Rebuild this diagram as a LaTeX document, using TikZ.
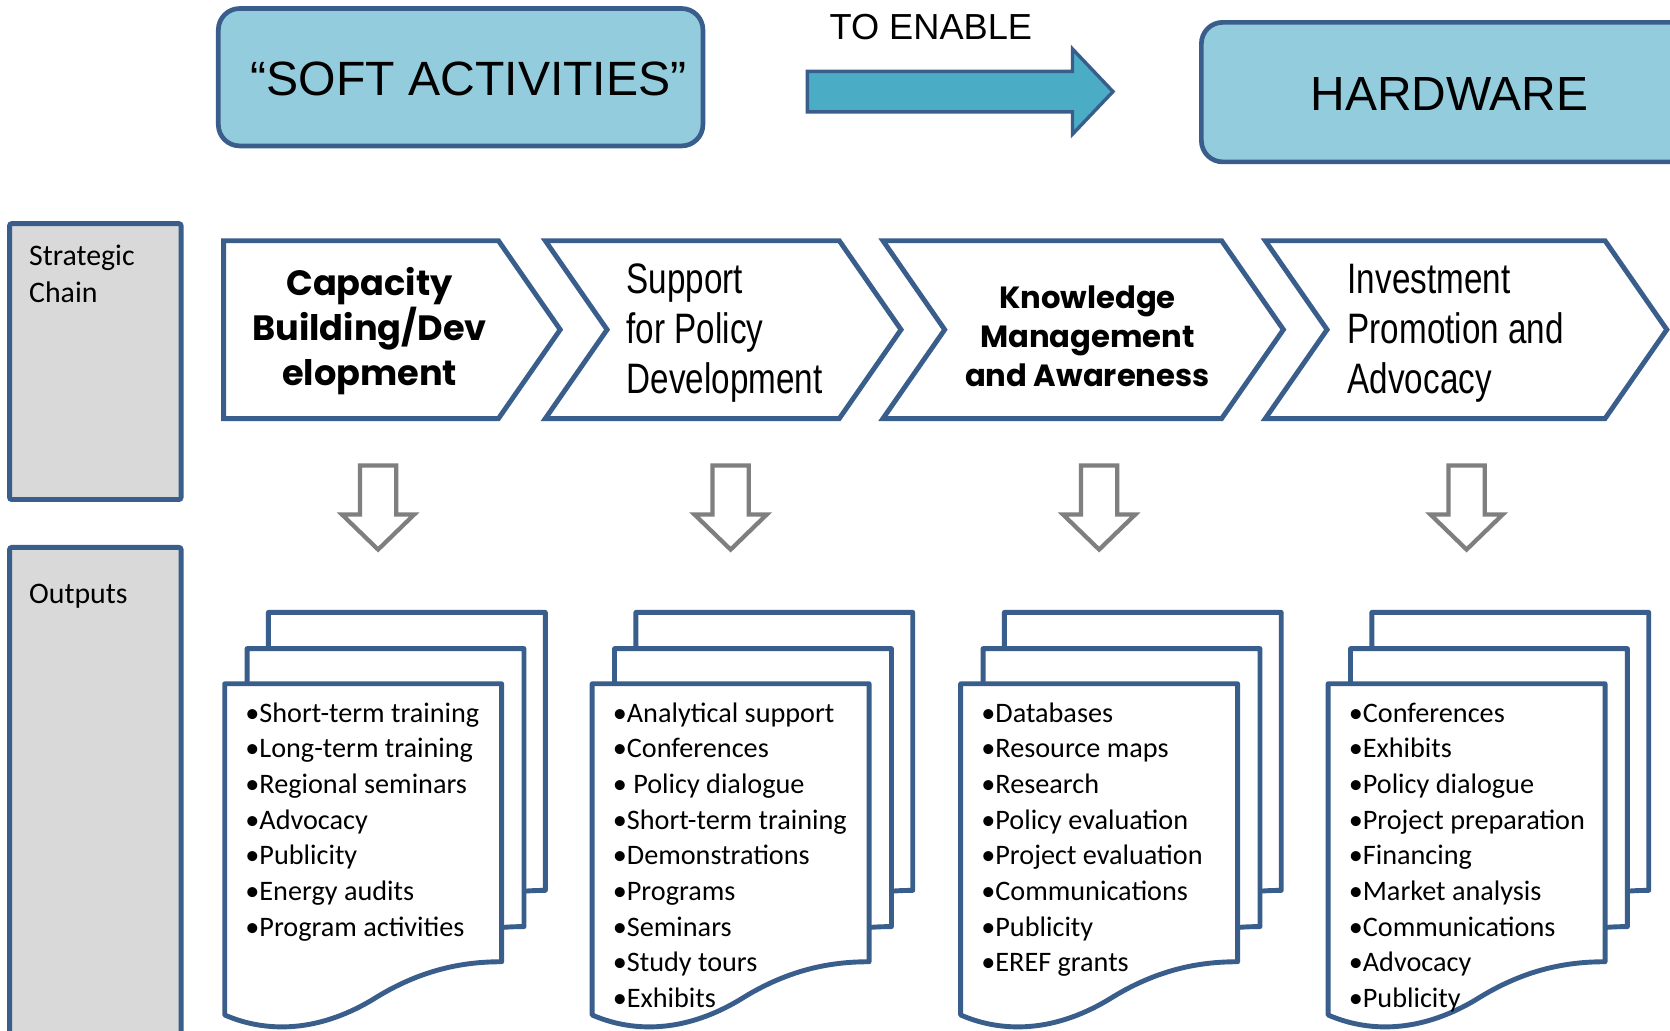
\documentclass[tikz,border=0pt]{standalone}
\usepackage{fontspec}
\setmainfont{Liberation Sans}
\newfontfamily\calfont{Carlito}
\newfontfamily\narrowfont[FakeStretch=0.78]{Liberation Sans}
\newfontfamily\geofont{Poppins}
\definecolor{bdr}{HTML}{3A5E8C}
\definecolor{lblue}{HTML}{93CDDD}
\definecolor{teal}{HTML}{4BACC6}
\definecolor{lgray}{HTML}{D9D9D9}
\definecolor{dgray}{HTML}{7F7F7F}
\newcommand\mydocpage[2]{%
  \draw[pagestyle] (#1,#2) -- ++(260,0) -- ++(0,261)
    .. controls +(-31,0) and +(46,-28) .. ++(-117,33)
    .. controls +(-54,34) and +(39,17) .. ++(-143,17) -- cycle;}
\tikzset{
  pagestyle/.style={draw=bdr, line width=2.3pt, fill=white, line join=round},
  topbox/.style={draw=bdr, line width=2.2pt, fill=lblue, rounded corners=10pt},
  graybox/.style={draw=bdr, line width=2.3pt, fill=lgray, rounded corners=1pt},
  chev/.style={draw=bdr, line width=2.3pt, fill=white, line join=miter},
  downarr/.style={draw=dgray, line width=2pt, fill=white, line join=miter},
  enablearr/.style={draw=bdr, line width=1.6pt, fill=teal, line join=miter},
  listitem/.style={anchor=base west, inner sep=0pt, font=\calfont\fontsize{13.25pt}{16pt}\selectfont},
  sidelabel/.style={anchor=base west, inner sep=0pt, font=\calfont\fontsize{14pt}{17pt}\selectfont},
  boldchev/.style={inner sep=0pt, align=center, font=\geofont\bfseries\fontsize{16.5pt}{21pt}\selectfont},
  narrowchev/.style={inner sep=0pt, align=left, anchor=west, font=\narrowfont\fontsize{20pt}{23.5pt}\selectfont},
}
\begin{document}
\begin{tikzpicture}[x=0.5pt,y=-0.5pt]
\clip (0,0) rectangle (1568,968);
\fill[white] (0,0) rectangle (1568,968);

% top row
\draw[topbox] (205,8) rectangle (660,137);
\node[inner sep=0pt, font=\fontsize{22.6pt}{27pt}\selectfont] (soft) at (440,74) {“SOFT ACTIVITIES”};
\draw[topbox] (1128,21) rectangle (1610,152);
\node[inner sep=0pt, font=\fontsize{22.5pt}{27pt}\selectfont] (hard) at (1361,88) {HARDWARE};
\node[inner sep=0pt, font=\fontsize{17pt}{20pt}\selectfont] (enable) at (874,25) {TO ENABLE};
\coordinate (arrS) at (758,86);
\coordinate (arrT) at (1045,86);
\draw[enablearr] (arrS) ++(0,-19) -- (1007,67) -- (1007,46) -- (arrT) -- (1007,126) -- (1007,105) -- (758,105) -- cycle;

% side boxes
\draw[graybox] (9,210) rectangle (170,469);
\node[sidelabel] (strat1) at (27,249) {Strategic};
\node[sidelabel] (strat2) at (27,284) {Chain};
\draw[graybox] (9,514) rectangle (170,990);
\node[sidelabel] (outs) at (27,567) {Outputs};

% chevrons
\draw[chev] (210,226) -- (468,226) -- (526,309.5) -- (468,393) -- (210,393) -- cycle;
\draw[chev] (512,226) -- (788,226) -- (846,309.5) -- (788,393) -- (512,393) -- (570,309.5) -- cycle;
\draw[chev] (829,226) -- (1147,226) -- (1205,309.5) -- (1147,393) -- (829,393) -- (887,309.5) -- cycle;
\draw[chev] (1188,226) -- (1507,226) -- (1565,309.5) -- (1507,393) -- (1188,393) -- (1246,309.5) -- cycle;

\node[boldchev] (c1) at (347,311) {Capacity\\Building/Dev\\elopment};
\node[narrowchev] (c2) at (588,313) {Support\\for Policy\\Development};
\node[boldchev, font=\geofont\bfseries\fontsize{14.4pt}{18.25pt}\selectfont] (c3) at (1021,316) {Knowledge\\Management\\and Awareness};
\node[narrowchev] (c4) at (1265,313) {Investment\\Promotion and\\Advocacy};

% down arrows
\foreach \cx in {355,686,1032,1377}{
  \draw[downarr] (\cx-17,437) -- (\cx+17,437) -- (\cx+17,483) -- (\cx+34,483) -- (\cx,516) -- (\cx-34,483) -- (\cx-17,483) -- cycle;
}

% document stacks
\foreach \L in {211,556,902,1247}{
  \mydocpage{\L+41}{575}
  \mydocpage{\L+21}{609}
  \mydocpage{\L}{642}
}

\foreach \t [count=\i] in {Short-term training, Long-term training, Regional seminars, Advocacy, Publicity, Energy audits, Program activities}
  \node[listitem] (a\i) at (230,{678+33.5*(\i-1)}) {•\t};
\foreach \t [count=\i] in {Analytical support, Conferences, {~Policy dialogue}, Short-term training, Demonstrations, Programs, Seminars, Study tours, Exhibits}
  \node[listitem] (b\i) at (575,{678+33.5*(\i-1)}) {•\t};
\foreach \t [count=\i] in {Databases, Resource maps, Research, Policy evaluation, Project evaluation, Communications, Publicity, EREF grants}
  \node[listitem] (d\i) at (921,{678+33.5*(\i-1)}) {•\t};
\foreach \t [count=\i] in {Conferences, Exhibits, Policy dialogue, Project preparation, Financing, Market analysis, Communications, Advocacy, Publicity}
  \node[listitem] (e\i) at (1266,{678+33.5*(\i-1)}) {•\t};
\end{tikzpicture}
\end{document}
